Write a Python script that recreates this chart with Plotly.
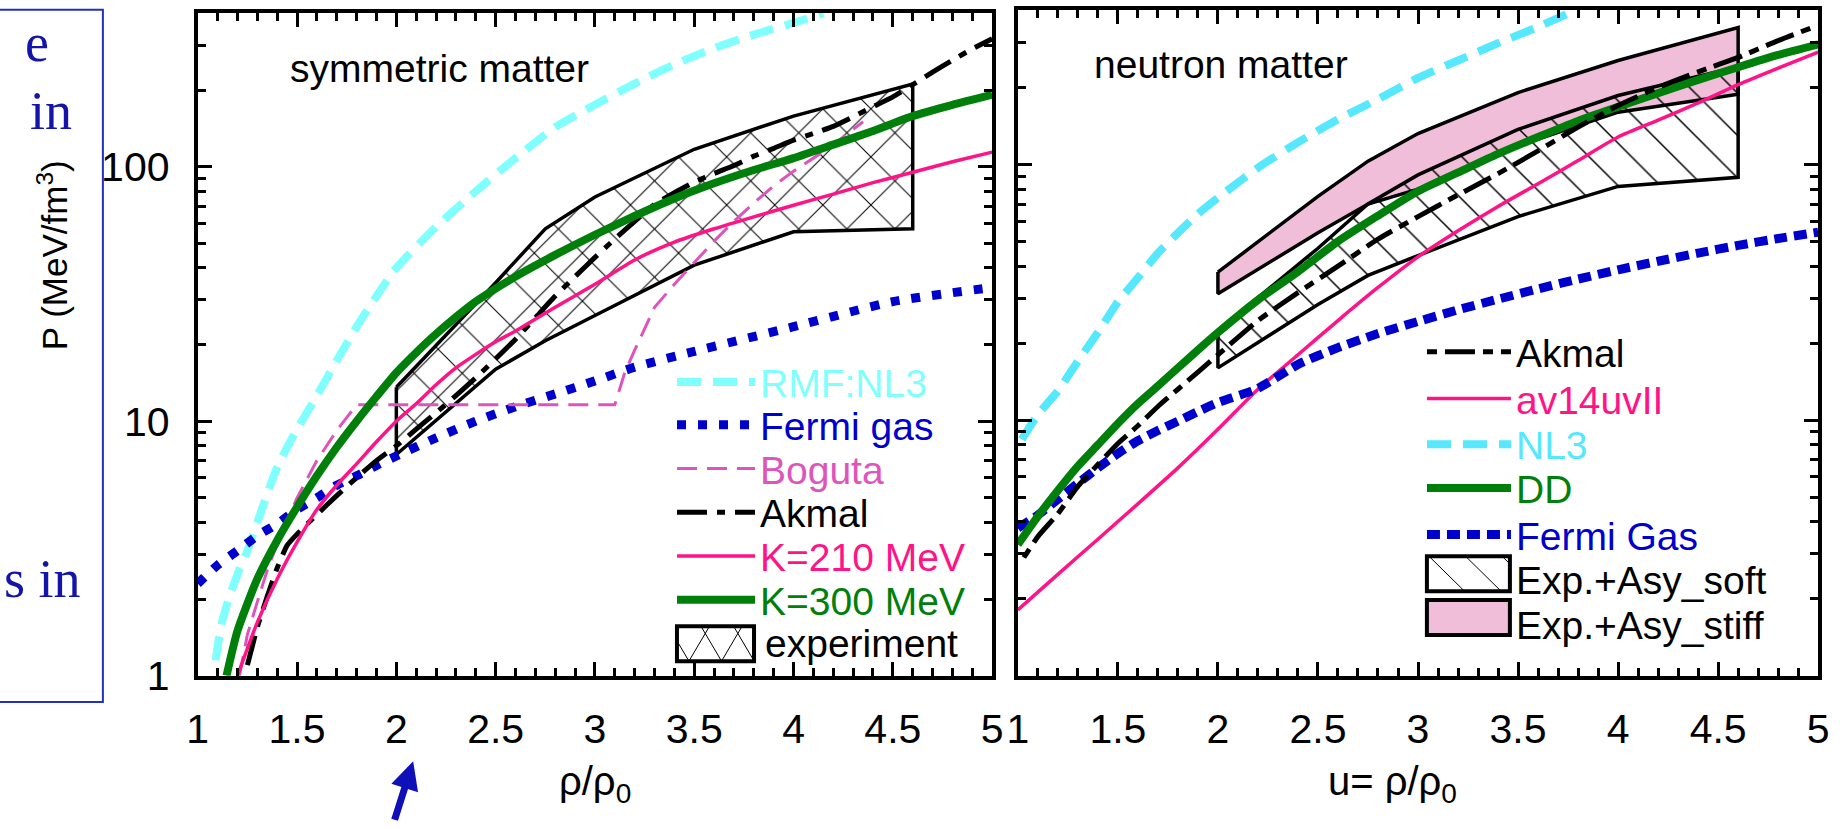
import plotly.graph_objects as go

# ---------------- symmetric matter (left panel) ----------------
sym_nl3_x = [1.09, 1.12, 1.16, 1.2, 1.25, 1.3, 1.4, 1.5, 1.6, 1.7, 1.8, 1.9, 2.0, 2.2, 2.4, 2.6, 2.8, 3.0, 3.2, 3.4, 3.6, 3.8, 4.0, 4.15]
sym_nl3_y = [1.15, 1.6, 2.05, 2.5, 3.1, 4.0, 6.6, 9.3, 12.6, 17.3, 23.5, 31, 40, 58, 80, 108, 143, 175, 212, 252, 292, 330, 367, 400]

sym_fg_x = [1.0, 1.1, 1.2, 1.3, 1.4, 1.5, 1.6, 1.7, 1.8, 1.9, 2.0, 2.2, 2.4, 2.6, 2.8, 3.0, 3.2, 3.5, 4.0, 4.5, 5.0]
sym_fg_y = [2.3, 2.72, 3.1, 3.55, 3.95, 4.5, 5.0, 5.6, 6.1, 6.7, 7.3, 8.6, 10.0, 11.4, 12.8, 14.4, 16.3, 18.8, 23.5, 29.5, 33.5]

sym_bog_x = [1.21, 1.25, 1.3, 1.35, 1.4, 1.5, 1.6, 1.7, 1.8, 2.4, 3.1, 3.15, 3.2, 3.3, 3.4, 3.5, 3.6, 3.7, 3.8, 3.9, 4.0, 4.1, 4.2, 4.35]
sym_bog_y = [1.0, 1.45, 1.95, 2.6, 3.3, 5.0, 7.0, 9.2, 11.6, 11.6, 11.6, 15.5, 19, 28, 34.5, 42, 51, 61, 72, 84, 96, 108, 122, 150]

sym_akm_x = [1.25, 1.3, 1.35, 1.4, 1.45, 1.5, 1.6, 1.7, 1.8, 1.9, 2.0, 2.1, 2.2, 2.3, 2.4, 2.5, 2.6, 2.7, 2.8, 2.9, 3.0, 3.1, 3.2, 3.3, 3.4, 3.5, 3.6, 3.7, 3.8, 3.9, 4.0, 4.1, 4.2, 4.3, 4.4, 4.5, 4.6, 4.7, 4.8, 4.9, 5.0]
sym_akm_y = [1.1, 1.55, 2.05, 2.65, 3.25, 3.6, 4.3, 5.1, 6.0, 7.0, 8.0, 9.3, 10.8, 12.6, 14.8, 17.6, 21, 25.5, 31, 37, 44, 52, 61, 71, 79, 87, 94, 101, 110, 118, 127, 135, 144, 157, 172, 188, 210, 235, 262, 290, 318]

sym_k210_x = [1.2, 1.3, 1.4, 1.5, 1.6, 1.7, 1.8, 1.9, 2.0, 2.1, 2.2, 2.3, 2.4, 2.5, 2.6, 2.8, 3.0, 3.2, 3.4, 3.6, 3.8, 4.0, 4.2, 4.4, 4.6, 4.8, 5.0]
sym_k210_y = [1.0, 1.62, 2.4, 3.35, 4.5, 5.6, 6.8, 8.3, 10, 11.7, 13.9, 16.2, 18.3, 20.5, 22.6, 28, 34.5, 43, 50.5, 57, 63.5, 70.5, 78, 86.5, 95, 104.5, 114]

sym_k300_x = [1.145, 1.2, 1.3, 1.4, 1.5, 1.6, 1.7, 1.8, 1.9, 2.0, 2.1, 2.2, 2.4, 2.6, 2.8, 3.0, 3.2, 3.4, 3.6, 3.8, 4.0, 4.2, 4.4, 4.6, 4.8, 5.0]
sym_k300_y = [1.0, 1.5, 2.4, 3.4, 4.6, 6.1, 7.9, 10.0, 12.5, 15.5, 18.6, 22, 29.5, 37, 45, 54, 64, 75, 86, 97, 108, 122, 138, 158, 175, 192]

sym_exp_x = [2.0, 2.5, 2.75, 3.0, 3.5, 4.0, 4.6]
sym_exp_hi = [13.6, 35, 57, 76, 117, 158, 211]
sym_exp_lo = [7.4, 16.0, 20.7, 26, 41, 55.5, 57]

# ---------------- neutron matter (right panel) ----------------
neu_nl3_x = [1.02, 1.1, 1.2, 1.3, 1.4, 1.5, 1.6, 1.7, 1.8, 1.9, 2.0, 2.2, 2.4, 2.6, 2.8, 3.0, 3.2, 3.4, 3.6, 3.76]
neu_nl3_y = [8.4, 10.5, 13, 17, 22, 29, 36, 45, 54, 64, 74, 97, 122, 150, 180, 218, 255, 298, 345, 392]

neu_av14_x = [1.0, 1.2, 1.4, 1.6, 1.8, 2.0, 2.2, 2.4, 2.6, 2.8, 3.0, 3.2, 3.4, 3.6, 3.8, 4.0, 4.2, 4.4, 4.6, 4.8, 5.0]
neu_av14_y = [1.81, 2.49, 3.42, 4.7, 6.5, 9.2, 13.2, 18, 24.5, 33, 43.5, 55, 68.5, 84, 103.5, 128, 149, 174, 205, 238, 275]

neu_akm_x = [1.03, 1.1, 1.2, 1.3, 1.4, 1.5, 1.6, 1.7, 1.8, 1.9, 2.0, 2.2, 2.4, 2.6, 2.8, 3.0, 3.2, 3.4, 3.6, 3.8, 4.0, 4.2, 4.4, 4.6, 4.8, 5.0]
neu_akm_y = [2.9, 3.5, 4.3, 5.5, 6.7, 8.1, 9.5, 11.3, 13.2, 15.4, 18, 24.5, 31.5, 40, 51, 62.5, 76, 92, 113, 140, 170, 200, 230, 262, 305, 350]

neu_dd_x = [1.0, 1.1, 1.2, 1.3, 1.4, 1.5, 1.6, 1.7, 1.8, 1.9, 2.0, 2.2, 2.4, 2.6, 2.8, 3.0, 3.2, 3.4, 3.6, 3.8, 4.0, 4.2, 4.4, 4.6, 4.8, 5.0]
neu_dd_y = [3.26, 4.2, 5.3, 6.6, 8.0, 9.7, 11.6, 13.6, 16.0, 18.8, 22, 29.5, 38, 50, 63, 78.5, 93, 110, 128, 148, 168, 190, 214, 240, 268, 295]

neu_fg_x = [1.0, 1.1, 1.2, 1.3, 1.4, 1.5, 1.6, 1.7, 1.8, 1.9, 2.0, 2.2, 2.4, 2.6, 2.8, 3.0, 3.2, 3.4, 3.6, 3.8, 4.0, 4.2, 4.4, 4.6, 4.8, 5.0]
neu_fg_y = [3.78, 4.25, 4.9, 5.65, 6.5, 7.4, 8.3, 9.1, 9.9, 10.8, 11.7, 13.3, 16.5, 19.2, 21.8, 24.3, 27.0, 29.7, 32.6, 35.6, 38.7, 41.8, 45, 48.2, 51.3, 54.3]

neu_band_x = [2.0, 2.5, 2.75, 3.0, 3.5, 4.0, 4.6]
soft_hi = [22.4, 47, 70, 91, 137, 186, 241]
soft_lo = [16, 28.3, 36.8, 44, 62.5, 82, 89]
stiff_hi = [37.9, 75, 103, 132, 191, 255, 343]
stiff_lo = [31.2, 54, 70, 80, 118, 160, 188]

# ---------------- figure ----------------
W, H = 1844, 829
FONT = "Liberation Sans, Arial, sans-serif"
CYAN_L = "#80FFFF"
CYAN_R = "#55E8FF"
BLUE = "#0000CC"
BOG = "#DD55BB"
PINK = "#FF1488"
GREEN = "#00800A"
PINKFILL = "#F0BED8"


def band(xs, hi, lo):
    return xs + xs[::-1] + [xs[0]], hi + lo[::-1] + [hi[0]]


def px(xp, yp):
    return xp / W, 1 - yp / H


fig = go.Figure()

# left panel
ex, ey = band(sym_exp_x, sym_exp_hi, sym_exp_lo)
fig.add_trace(go.Scatter(x=ex, y=ey, mode="lines", fill="toself", fillcolor="white",
                         fillpattern=dict(shape="x", size=34, solidity=0.06, fgcolor="black", fgopacity=1,
                                          bgcolor="white"),
                         line=dict(color="black", width=3.5), name="experiment", showlegend=False,
                         xaxis="x", yaxis="y"))
fig.add_trace(go.Scatter(x=sym_nl3_x, y=sym_nl3_y, mode="lines", name="RMF:NL3", legend="legend",
                         line=dict(color=CYAN_L, width=8, dash="24px,12px", shape="spline", smoothing=0.6),
                         xaxis="x", yaxis="y"))
fig.add_trace(go.Scatter(x=sym_fg_x, y=sym_fg_y, mode="lines", name="Fermi gas", legend="legend2",
                         line=dict(color=BLUE, width=9, dash="9px,12px", shape="spline", smoothing=0.6),
                         xaxis="x", yaxis="y"))
fig.add_trace(go.Scatter(x=sym_bog_x, y=sym_bog_y, mode="lines", name="Boguta", legend="legend3",
                         line=dict(color=BOG, width=3, dash="20px,10px"), xaxis="x", yaxis="y"))
fig.add_trace(go.Scatter(x=sym_akm_x, y=sym_akm_y, mode="lines", name="Akmal", legend="legend4",
                         line=dict(color="black", width=5, dash="30px,10px,8px,10px", shape="spline", smoothing=0.5),
                         xaxis="x", yaxis="y"))
fig.add_trace(go.Scatter(x=sym_k210_x, y=sym_k210_y, mode="lines", name="K=210 MeV", legend="legend5",
                         line=dict(color=PINK, width=3.5, shape="spline", smoothing=0.6), xaxis="x", yaxis="y"))
fig.add_trace(go.Scatter(x=sym_k300_x, y=sym_k300_y, mode="lines", name="K=300 MeV", legend="legend6",
                         line=dict(color=GREEN, width=8, shape="spline", smoothing=0.6), xaxis="x", yaxis="y"))

# right panel
sx, sy = band(neu_band_x, stiff_hi, stiff_lo)
fig.add_trace(go.Scatter(x=sx, y=sy, mode="lines", fill="toself", fillcolor=PINKFILL,
                         line=dict(color="black", width=3.5), name="Exp.+Asy_stiff", showlegend=False,
                         xaxis="x2", yaxis="y2"))
so_x, so_y = band(neu_band_x, soft_hi, soft_lo)
fig.add_trace(go.Scatter(x=so_x, y=so_y, mode="lines", fill="toself", fillcolor="rgba(0,0,0,0)",
                         fillpattern=dict(shape="\\", size=30, solidity=0.05, fgcolor="black", fgopacity=1,
                                          bgcolor="rgba(0,0,0,0)"),
                         line=dict(color="black", width=3.5), name="Exp.+Asy_soft", showlegend=False,
                         xaxis="x2", yaxis="y2"))
fig.add_trace(go.Scatter(x=neu_nl3_x, y=neu_nl3_y, mode="lines", name="NL3", legend="legend10",
                         line=dict(color=CYAN_R, width=8, dash="24px,12px", shape="spline", smoothing=0.6),
                         xaxis="x2", yaxis="y2"))
fig.add_trace(go.Scatter(x=neu_av14_x, y=neu_av14_y, mode="lines", name="av14uvII", legend="legend9",
                         line=dict(color=PINK, width=3.5, shape="spline", smoothing=0.6), xaxis="x2", yaxis="y2"))
fig.add_trace(go.Scatter(x=neu_fg_x, y=neu_fg_y, mode="lines", name="Fermi Gas", legend="legend12",
                         line=dict(color=BLUE, width=9, dash="13px,7px", shape="spline", smoothing=0.6),
                         xaxis="x2", yaxis="y2"))
fig.add_trace(go.Scatter(x=neu_dd_x, y=neu_dd_y, mode="lines", name="DD", legend="legend11",
                         line=dict(color=GREEN, width=8, shape="spline", smoothing=0.6), xaxis="x2", yaxis="y2"))
fig.add_trace(go.Scatter(x=neu_akm_x, y=neu_akm_y, mode="lines", name="Akmal", legend="legend8",
                         line=dict(color="black", width=5, dash="10px,8px,30px,8px", shape="spline", smoothing=0.6),
                         xaxis="x2", yaxis="y2"))

tickfont = dict(family=FONT, size=41, color="black")
common = dict(showline=True, linewidth=4, linecolor="black", mirror="allticks", ticks="inside",
              ticklen=14, tickwidth=3, tickcolor="black", showgrid=False, zeroline=False, tickfont=tickfont)
minor_y = [2, 3, 4, 5, 6, 7, 8, 9, 20, 30, 40, 50, 60, 70, 80, 90, 200, 300, 400]

fig.update_layout(
    width=W, height=H, margin=dict(l=0, r=0, t=0, b=0), showlegend=True,
    paper_bgcolor="white", plot_bgcolor="white",
    font=dict(family=FONT, color="black"),
    xaxis=dict(domain=[189 / W, 993 / W], range=[1, 5], tick0=1, dtick=0.5, anchor="y",
               minor=dict(dtick=0.1, ticks="inside", ticklen=8, tickwidth=3, tickcolor="black"),
               ticklabelstandoff=14, **common),
    yaxis=dict(domain=[1 - 695 / H, 1 - 13 / H], type="log", range=[0, 2.605], anchor="x",
               tickvals=[1, 10, 100], ticktext=["1", "10", "100"], ticklabelstandoff=16,
               minor=dict(tickvals=minor_y, ticks="inside", ticklen=8, tickwidth=3, tickcolor="black"),
               **common),
    xaxis2=dict(domain=[1019 / W, 1829 / W], range=[1, 5], tick0=1, dtick=0.5, anchor="y2",
                minor=dict(dtick=0.1, ticks="inside", ticklen=8, tickwidth=3, tickcolor="black"),
                ticklabelstandoff=14, **common),
    yaxis2=dict(domain=[1 - 695 / H, 1 - 10 / H], type="log", range=[0, 2.605], anchor="x2",
                tickvals=[1, 10, 100], showticklabels=False,
                minor=dict(tickvals=minor_y, ticks="inside", ticklen=8, tickwidth=3, tickcolor="black"),
                **common),
)

# one legend per line entry so that each sits where the original entry is
left_items = [("legend", 393, CYAN_L), ("legend2", 437, BLUE), ("legend3", 482, BOG), ("legend4", 527, "black"),
              ("legend5", 572, PINK), ("legend6", 617, GREEN)]
right_items = [("legend8", 362, "black"), ("legend9", 410, PINK), ("legend10", 457, CYAN_R),
               ("legend11", 502, GREEN), ("legend12", 550, BLUE)]
legends = {}
for name, yc, col in left_items:
    legends[name] = dict(x=669 / W, y=1 - yc / H, xanchor="left", yanchor="middle",
                         bgcolor="rgba(0,0,0,0)", borderwidth=0, itemwidth=78,
                         font=dict(family=FONT, size=39, color=col))
for name, yc, col in right_items:
    legends[name] = dict(x=1428 / W, y=1 - yc / H, xanchor="left", yanchor="middle",
                         bgcolor="rgba(0,0,0,0)", borderwidth=0, itemwidth=84,
                         font=dict(family=FONT, size=39, color=col))
fig.update_layout(**legends)


# keys of the band entries (boxes with hatching) and their labels
def hatch_path(x0, x1, y0, y1, step, dx_per_dy):
    segs = []
    h = y1 - y0
    xs = x0 - abs(dx_per_dy) * h
    while xs < x1 + abs(dx_per_dy) * h:
        xa, ya = xs, y1
        xb, yb = xs + dx_per_dy * h, y0
        pts = []
        for t in [i / 200 for i in range(201)]:
            xx = xa + (xb - xa) * t
            yy = ya + (yb - ya) * t
            if x0 <= xx <= x1:
                pts.append((xx, yy))
        if len(pts) >= 2:
            a, b = px(*pts[0])
            c, d = px(*pts[-1])
            segs.append(f"M{a},{b} L{c},{d}")
        xs += step
    return " ".join(segs)


key_items = [
    ("experiment", 674, 752, 644, 680, "white", [(33, 0.58), (33, -0.58)], 762, 662),
    ("Exp.+Asy_soft", 1433, 1517, 572, 608, "white", [(37, -1.0)], 1522, 597),
    ("Exp.+Asy_stiff", 1433, 1517, 617, 653, PINKFILL, [], 1522, 643),
]
for label, x0, x1, y0, y1, fc, hatches, tx, ty in key_items:
    a, b = px(x0, y1)
    c, d = px(x1, y0)
    fig.add_shape(type="rect", xref="paper", yref="paper", x0=a, x1=c, y0=b, y1=d,
                  fillcolor=fc, line=dict(width=0), layer="above")
    for step, slope in hatches:
        fig.add_shape(type="path", xref="paper", yref="paper", path=hatch_path(x0, x1, y0, y1, step, slope),
                      line=dict(color="black", width=1), layer="above")
    fig.add_shape(type="rect", xref="paper", yref="paper", x0=a, x1=c, y0=b, y1=d,
                  fillcolor="rgba(0,0,0,0)", line=dict(color="black", width=4), layer="above")
    fig.add_annotation(text=label, xref="paper", yref="paper", x=tx / W, y=1 - ty / H, xanchor="left",
                       yanchor="middle", showarrow=False, borderpad=0,
                       font=dict(family=FONT, size=39, color="black"))

# axis titles and panel texts
for txt, xc in [("ρ/ρ<sub>0</sub>", 591), ("u= ρ/ρ<sub>0</sub>", 1398)]:
    fig.add_annotation(text=txt, xref="paper", yref="paper", x=xc / W, y=1 - 806 / H, xanchor="center",
                       yanchor="middle", showarrow=False, borderpad=0,
                       font=dict(family=FONT, size=40, color="black"))
fig.add_annotation(text="symmetric matter", xref="paper", yref="paper", x=280 / W, y=1 - 70 / H,
                   xanchor="left", yanchor="middle", showarrow=False, font=dict(family=FONT, size=39, color="black"))
fig.add_annotation(text="neutron matter", xref="paper", yref="paper", x=1094 / W, y=1 - 66 / H,
                   xanchor="left", yanchor="middle", showarrow=False, font=dict(family=FONT, size=39, color="black"))
fig.add_annotation(text="P (MeV/fm<sup>3</sup>)", xref="paper", yref="paper", x=42 / W, y=1 - 262 / H,
                   xanchor="center", yanchor="middle", textangle=-90, showarrow=False,
                   font=dict(family=FONT, size=35, color="black"))

# fragment of the slide on the left
SERIF = "Liberation Serif, Times New Roman, serif"
NAVY = "#1414AA"
fig.add_shape(type="rect", xref="paper", yref="paper", x0=-0.01, x1=93 / W, y0=1 - 722 / H, y1=1 - 10 / H,
              line=dict(color="#2233BB", width=2), fillcolor="rgba(0,0,0,0)")
for txt, xr, yc in [("e", 40, 44), ("in", 64, 114), ("s in", 73, 596)]:
    fig.add_annotation(text=txt, xref="paper", yref="paper", x=xr / W, y=1 - yc / H, xanchor="right",
                       yanchor="middle", showarrow=False, font=dict(family=SERIF, size=54, color=NAVY))
fig.add_annotation(text="", xref="paper", yref="paper", x=407 / W, y=1 - 783 / H, ax=-19, ay=60,
                   showarrow=True, arrowhead=2, arrowsize=0.8, arrowwidth=7, arrowcolor="#1010B8")

fig.write_html("out.html", config={"displayModeBar": False},
               post_script="document.body.style.margin='0px';document.body.style.overflow='hidden';")
